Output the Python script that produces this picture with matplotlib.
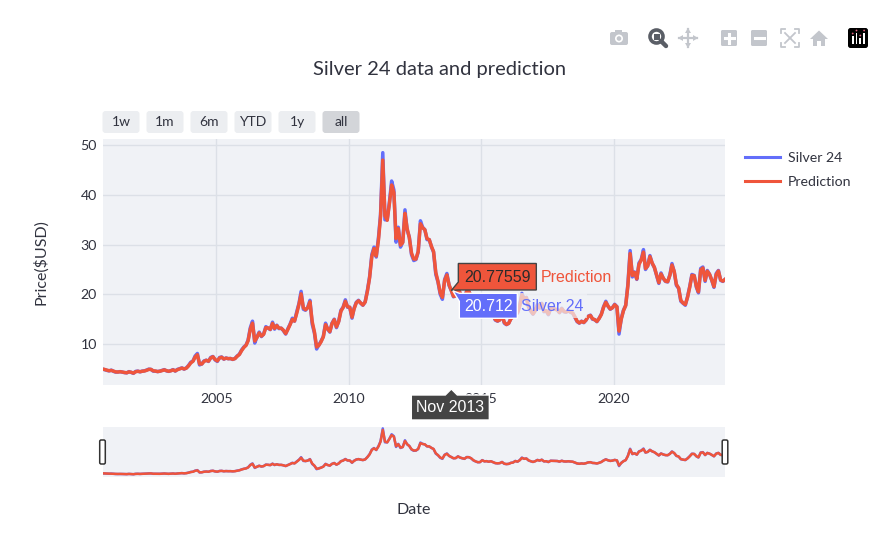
import numpy as np
import pandas as pd
import matplotlib
matplotlib.use('Agg')
import matplotlib.pyplot as plt
import matplotlib.dates as mdates
from matplotlib.patches import FancyBboxPatch, Polygon, Rectangle, Circle

# monthly silver price, Sep 2000 .. Mar 2024 (one row per year)
silver_24 = [
    4.95, 4.85, 4.70, 4.60,
    4.75, 4.50, 4.35, 4.38, 4.45, 4.35, 4.25, 4.20, 4.45, 4.30, 4.10, 4.50,
    4.55, 4.40, 4.55, 4.60, 4.75, 4.95, 4.90, 4.55, 4.55, 4.45, 4.55, 4.70,
    4.85, 4.60, 4.50, 4.65, 4.85, 4.55, 4.90, 5.05, 5.20, 4.95, 5.20, 5.70,
    6.35, 6.60, 7.60, 8.10, 5.80, 6.00, 6.60, 6.75, 6.50, 7.30, 7.50, 6.80,
    6.50, 7.30, 7.40, 6.95, 7.20, 7.05, 7.10, 6.90, 7.10, 7.60, 7.95, 8.80,
    9.40, 9.80, 10.80, 13.30, 14.60, 10.20, 11.40, 12.40, 11.50, 12.00, 13.50, 13.20,
    12.90, 14.40, 13.00, 13.80, 13.10, 13.20, 12.70, 12.00, 13.10, 14.00, 15.20, 14.60,
    16.50, 18.20, 20.60, 17.00, 16.80, 17.40, 18.80, 14.00, 12.20, 9.00, 9.80, 10.60,
    11.50, 14.20, 13.00, 12.40, 14.20, 15.00, 13.30, 14.60, 16.80, 17.40, 18.90, 17.40,
    17.40, 15.20, 17.20, 18.40, 18.80, 18.20, 17.80, 18.50, 20.80, 23.50, 28.00, 29.50,
    27.50, 31.50, 36.00, 48.50, 35.00, 35.00, 38.50, 42.80, 41.00, 30.50, 33.50, 29.50,
    30.50, 37.00, 33.00, 31.50, 28.00, 26.80, 27.00, 28.50, 34.80, 33.50, 33.00, 31.00,
    31.00, 29.50, 28.50, 24.00, 22.50, 20.00, 19.00, 23.00, 24.20, 21.80, 20.712, 19.50,
    19.80, 21.50, 20.20, 19.50, 19.00, 20.80, 20.60, 19.50, 17.50, 16.50, 15.70, 15.80,
    17.80, 16.50, 16.80, 16.20, 16.70, 15.70, 14.80, 14.60, 14.90, 16.00, 14.20, 13.90,
    14.20, 15.20, 15.50, 17.00, 16.20, 17.80, 20.20, 19.00, 19.40, 17.40, 16.60, 16.00,
    16.80, 18.00, 17.20, 18.20, 16.50, 16.70, 15.90, 17.20, 17.10, 17.00, 16.90, 16.30,
    17.20, 16.50, 16.40, 16.70, 16.40, 16.20, 15.40, 14.50, 14.20, 14.60, 14.30, 14.80,
    15.60, 15.80, 15.00, 14.90, 14.50, 15.20, 16.00, 17.50, 18.60, 17.60, 17.00, 17.30,
    18.00, 17.50, 12.00, 15.20, 16.80, 17.80, 22.00, 28.80, 23.50, 24.50, 23.00, 26.30,
    27.00, 29.00, 25.00, 25.80, 27.80, 26.20, 25.40, 23.80, 22.20, 24.30, 23.20, 22.60,
    22.50, 24.00, 26.20, 24.50, 21.80, 21.20, 18.60, 18.20, 17.80, 19.50, 21.60, 24.00,
    23.80, 21.40, 20.30, 25.20, 25.50, 22.60, 24.80, 24.00, 22.80, 21.40, 24.20, 24.80,
    22.80, 22.60, 23.00,
]

prediction = [
    4.97, 4.88, 4.74, 4.63,
    4.70, 4.55, 4.40, 4.37, 4.43, 4.37, 4.28, 4.22, 4.40, 4.32, 4.15, 4.42,
    4.52, 4.43, 4.52, 4.58, 4.71, 4.90, 4.90, 4.62, 4.56, 4.47, 4.53, 4.66,
    4.80, 4.64, 4.53, 4.62, 4.80, 4.60, 4.84, 5.01, 5.16, 4.99, 5.15, 5.60,
    6.20, 6.55, 7.40, 7.85, 6.00, 5.98, 6.50, 6.72, 6.55, 7.18, 7.45, 6.90,
    6.60, 7.20, 7.35, 7.00, 7.16, 7.06, 7.08, 6.93, 7.07, 7.52, 7.90, 8.65,
    9.30, 9.75, 10.65, 13.00, 14.20, 10.60, 11.30, 12.25, 11.60, 11.95, 13.30, 13.25,
    12.95, 14.15, 13.15, 13.70, 13.20, 13.18, 12.78, 12.10, 12.95, 13.90, 14.95, 14.62,
    16.20, 18.00, 20.10, 17.30, 16.90, 17.30, 18.50, 14.50, 12.40, 9.40, 9.75, 10.45,
    11.45, 13.90, 13.10, 12.50, 14.10, 14.90, 13.45, 14.50, 16.60, 17.35, 18.60, 17.50,
    17.40, 15.40, 17.05, 18.30, 18.70, 18.25, 17.85, 18.45, 20.60, 23.30, 27.60, 29.20,
    27.70, 31.00, 35.60, 47.00, 35.80, 34.90, 38.20, 42.00, 40.50, 31.20, 33.20, 29.90,
    30.40, 36.30, 33.30, 31.40, 28.30, 27.10, 27.10, 28.60, 34.20, 33.40, 33.00, 31.20,
    31.00, 29.60, 28.60, 24.40, 22.60, 20.30, 19.40, 22.80, 23.90, 21.90, 20.77559, 19.60,
    19.70, 21.30, 20.30, 19.60, 19.10, 20.60, 20.60, 19.60, 17.70, 16.60, 15.80, 15.85,
    17.60, 16.60, 16.75, 16.25, 16.65, 15.80, 14.90, 14.65, 14.85, 15.90, 14.35, 13.95,
    14.15, 15.10, 15.45, 16.85, 16.30, 17.65, 19.90, 19.10, 19.30, 17.55, 16.70, 16.05,
    16.70, 17.85, 17.30, 18.10, 16.60, 16.70, 16.00, 17.10, 17.10, 17.00, 16.90, 16.35,
    17.10, 16.55, 16.45, 16.65, 16.45, 16.25, 15.50, 14.60, 14.25, 14.55, 14.35, 14.80,
    15.55, 15.75, 15.10, 14.90, 14.55, 15.15, 15.95, 17.40, 18.40, 17.65, 17.05, 17.30,
    17.90, 17.50, 12.60, 15.00, 16.70, 17.75, 21.70, 28.20, 23.80, 24.40, 23.10, 26.00,
    26.90, 28.50, 25.20, 25.70, 27.60, 26.30, 25.45, 23.90, 22.35, 24.10, 23.25, 22.65,
    22.55, 23.85, 25.90, 24.60, 22.00, 21.25, 18.80, 18.25, 17.95, 19.35, 21.45, 23.80,
    23.75, 21.55, 20.50, 24.90, 25.30, 22.80, 24.65, 24.05, 22.85, 21.55, 24.00, 24.70,
    22.90, 22.65, 23.00,
]

range_buttons = ['1w', '1m', '6m', 'YTD', '1y', 'all']
hover_label = 'Nov 2013'
hover_index = 158  # Nov 2013

dates = pd.date_range('2000-09-01', periods=len(silver_24), freq='MS') + pd.Timedelta(days=14)

BLUE = '#636EFA'
RED = '#EF553B'
PLOT_BG = '#F0F2F6'
GRID = '#DCE0E7'
TXT = '#31333F'

plt.rcParams['font.family'] = ['Lato', 'DejaVu Sans']

W, H = 892, 546
fig = plt.figure(figsize=(W / 100, H / 100), dpi=100)

# main plot
L, R, T, B = 102.5, 725, 139, 385
ax = fig.add_axes([L / W, 1 - B / H, (R - L) / W, (B - T) / H])
ax.set_facecolor(PLOT_BG)
ax.plot(dates, silver_24, color=BLUE, lw=2.5, label='Silver 24')
ax.plot(dates, prediction, color=RED, lw=2.5, label='Prediction')
ax.set_xlim(dates[0], dates[-1])
ax.set_ylim(1.76, 51.25)
ax.set_yticks([10, 20, 30, 40, 50])
ax.xaxis.set_major_locator(mdates.YearLocator(5))
ax.xaxis.set_major_formatter(mdates.DateFormatter('%Y'))
ax.grid(color=GRID, lw=1)
ax.set_axisbelow(True)
for s in ax.spines.values():
    s.set_visible(False)
ax.tick_params(length=0, labelsize=10.2, labelcolor=TXT)
ax.tick_params(axis='y', pad=4)
ax.tick_params(axis='x', pad=6)
ax.set_ylabel('Price($USD)', fontsize=11.5, color=TXT)
ax.yaxis.set_label_coords((48 - L) / (R - L), 0.5)

leg = ax.legend(loc='upper left', bbox_to_anchor=(745 / W, 1 - 152 / H),
                bbox_transform=fig.transFigure, frameon=False, fontsize=10.2,
                handlelength=2.5, handletextpad=0.55, borderpad=0, borderaxespad=0,
                labelspacing=0.85)
for t in leg.get_texts():
    t.set_color(TXT)
for ln in leg.get_lines():
    ln.set_linewidth(2.2)

# range slider
SB, ST = 477, 427
sl = fig.add_axes([L / W, 1 - SB / H, (R - L) / W, (SB - ST) / H])
sl.set_facecolor(PLOT_BG)
sl.plot(dates, silver_24, color=BLUE, lw=1.8)
sl.plot(dates, prediction, color=RED, lw=1.8)
sl.set_xlim(dates[0], dates[-1])
lo, hi = min(silver_24), max(silver_24)
span = hi - lo
sl.set_ylim(lo - 0.06 * span, hi + 0.03 * span)
sl.set_xticks([])
sl.set_yticks([])
for s in sl.spines.values():
    s.set_visible(False)

fig.text(440 / W, 1 - 70 / H, 'Silver 24 data and prediction', ha='center', va='center',
         fontsize=14.5, color=TXT)
fig.text((L + R) / 2 / W, 1 - 510 / H, 'Date', ha='center', va='center', fontsize=11.5, color=TXT)

# overlay in pixel coordinates (y down)
ov = fig.add_axes([0, 0, 1, 1], zorder=10)
ov.set_xlim(0, W)
ov.set_ylim(H, 0)
ov.axis('off')
ov.patch.set_alpha(0)

# range selector buttons
bx = L
for name in range_buttons:
    bw = 37
    col = '#D3D5D9' if name == 'all' else '#ECEEF1'
    ov.add_patch(FancyBboxPatch((bx, 111), bw, 22, boxstyle='round,pad=0,rounding_size=3',
                                fc=col, ec='none'))
    ov.text(bx + bw / 2, 122, name, ha='center', va='center', fontsize=10, color=TXT)
    bx += 44

# slider handles
for hx in (L, R):
    ov.add_patch(FancyBboxPatch((hx - 2.8, 440), 5.6, 24, boxstyle='round,pad=0,rounding_size=1.5',
                                fc='white', ec='#333333', lw=1.1))

# hover labels from data position
fig.canvas.draw()
def to_px(d, v):
    px, py = ax.transData.transform((mdates.date2num(d), v))
    return px, H - py

hd = dates[hover_index]
x0, yp = to_px(hd, prediction[hover_index])
_, ys = to_px(hd, silver_24[hover_index])
hfont = ['Liberation Sans', 'DejaVu Sans']

# prediction label (pushed up)
bl, br = x0 + 7, x0 + 85
top, bot = yp - 27, yp - 0.5
ov.add_patch(Rectangle((br, top), 78, bot - top, fc=PLOT_BG, ec='none', alpha=0.7))
ov.add_patch(Polygon([(x0, yp), (bl, bot - 8), (bl, top), (br, top), (br, bot), (bl, bot)],
                     closed=True, fc=RED, ec='#444444', lw=1))
ov.text((bl + br) / 2, (top + bot) / 2 + 0.5, f'{prediction[hover_index]:.5f}', ha='center', va='center',
        fontsize=11.5, color='#2b2b2b', family=hfont)
ov.text(br + 4, (top + bot) / 2 + 0.5, 'Prediction', ha='left', va='center',
        fontsize=11.5, color=RED, family=hfont)

# silver label (pushed down)
bl2, br2 = x0 + 8, x0 + 66
top2, bot2 = ys + 2.5, ys + 27.5
ov.add_patch(Rectangle((br2, top2), 70, bot2 - top2, fc=PLOT_BG, ec='none', alpha=0.7))
ov.add_patch(Polygon([(x0 + 1.5, ys), (bl2, top2), (br2, top2), (br2, bot2), (bl2, bot2), (bl2, top2 + 8)],
                     closed=True, fc=BLUE, ec='white', lw=1))
ov.text((bl2 + br2) / 2, (top2 + bot2) / 2 + 0.5, f'{silver_24[hover_index]:g}', ha='center', va='center',
        fontsize=11.5, color='white', family=hfont)
ov.text(br2 + 4, (top2 + bot2) / 2 + 0.5, 'Silver 24', ha='left', va='center',
        fontsize=11.5, color=BLUE, family=hfont)

# x hover label
tip = B + 4
ov.add_patch(Polygon([(x0, tip), (x0 + 6, tip + 6), (x0 + 38, tip + 6), (x0 + 38, tip + 31),
                      (x0 - 40, tip + 31), (x0 - 40, tip + 6), (x0 - 6, tip + 6)],
                     closed=True, fc='#444444', ec='white', lw=1))
ov.text(x0 - 1, tip + 19, hover_label, ha='center', va='center', fontsize=11.5, color='white', family=hfont)

# modebar icons
ICON = '#C3C6CC'
# camera
ov.add_patch(FancyBboxPatch((610, 32), 18, 13, boxstyle='round,pad=0,rounding_size=2', fc=ICON, ec='none'))
ov.add_patch(Rectangle((615, 29.5), 7, 3, fc=ICON, ec='none'))
ov.add_patch(Circle((619, 38.5), 4, fc='white', ec='none'))
ov.add_patch(Circle((619, 38.5), 2.3, fc=ICON, ec='none'))
# zoom (active)
ov.add_patch(Circle((656.5, 36.5), 6.5, fc='none', ec='#5A5E66', lw=2.6))
ov.add_patch(Rectangle((653.5, 33.5), 6, 6, fc='#5A5E66', ec='none'))
ov.plot([661, 666], [41, 46], color='#5A5E66', lw=3.2, solid_capstyle='round')
# pan
ov.plot([679, 697], [38, 38], color=ICON, lw=1.6)
ov.plot([688, 688], [29, 47], color=ICON, lw=1.6)
for (px, py, ang) in [(679, 38, 0), (697, 38, 180), (688, 29, 90), (688, 47, 270)]:
    a = np.deg2rad(ang)
    d = np.array([np.cos(a), np.sin(a)])
    n = np.array([-d[1], d[0]])
    p = np.array([px, py])
    ov.add_patch(Polygon([p - d, p + 4 * d + 3 * n, p + 4 * d - 3 * n], closed=True, fc=ICON, ec='none'))
# zoom in / out
for cx, sym in [(729, '+'), (759, '-')]:
    ov.add_patch(FancyBboxPatch((cx - 8, 30), 16, 16, boxstyle='round,pad=0,rounding_size=1.5', fc=ICON, ec='none'))
    ov.plot([cx - 4.5, cx + 4.5], [38, 38], color='white', lw=2.2)
    if sym == '+':
        ov.plot([cx, cx], [33.5, 42.5], color='white', lw=2.2)
# autoscale
for sx, sy in [(-1, -1), (1, -1), (-1, 1), (1, 1)]:
    ov.plot([790 + 9 * sx, 790 + 9 * sx, 790 + 5 * sx], [38 + 5 * sy, 38 + 9 * sy, 38 + 9 * sy], color=ICON, lw=1.3)
ov.plot([785, 795], [33, 43], color=ICON, lw=1.3)
ov.plot([785, 795], [43, 33], color=ICON, lw=1.3)
# home
ov.add_patch(Polygon([(810, 39), (819, 30.5), (828, 39), (825, 39), (825, 46), (821, 46), (821, 41),
                      (817, 41), (817, 46), (813, 46), (813, 39)], closed=True, fc=ICON, ec='none'))
# logo
ov.add_patch(FancyBboxPatch((848, 28), 20, 20, boxstyle='round,pad=0,rounding_size=2.5', fc='black', ec='none'))
for i, hgt in enumerate([8, 11, 6, 11]):
    ov.add_patch(Rectangle((851.8 + i * 3.8, 44 - hgt), 1.8, hgt, fc='white', ec='none'))
    ov.add_patch(Circle((852.7 + i * 3.8, 44 - hgt - 2.5), 0.9, fc='#E0607E', ec='none'))

fig.savefig('out.png', dpi=100)
